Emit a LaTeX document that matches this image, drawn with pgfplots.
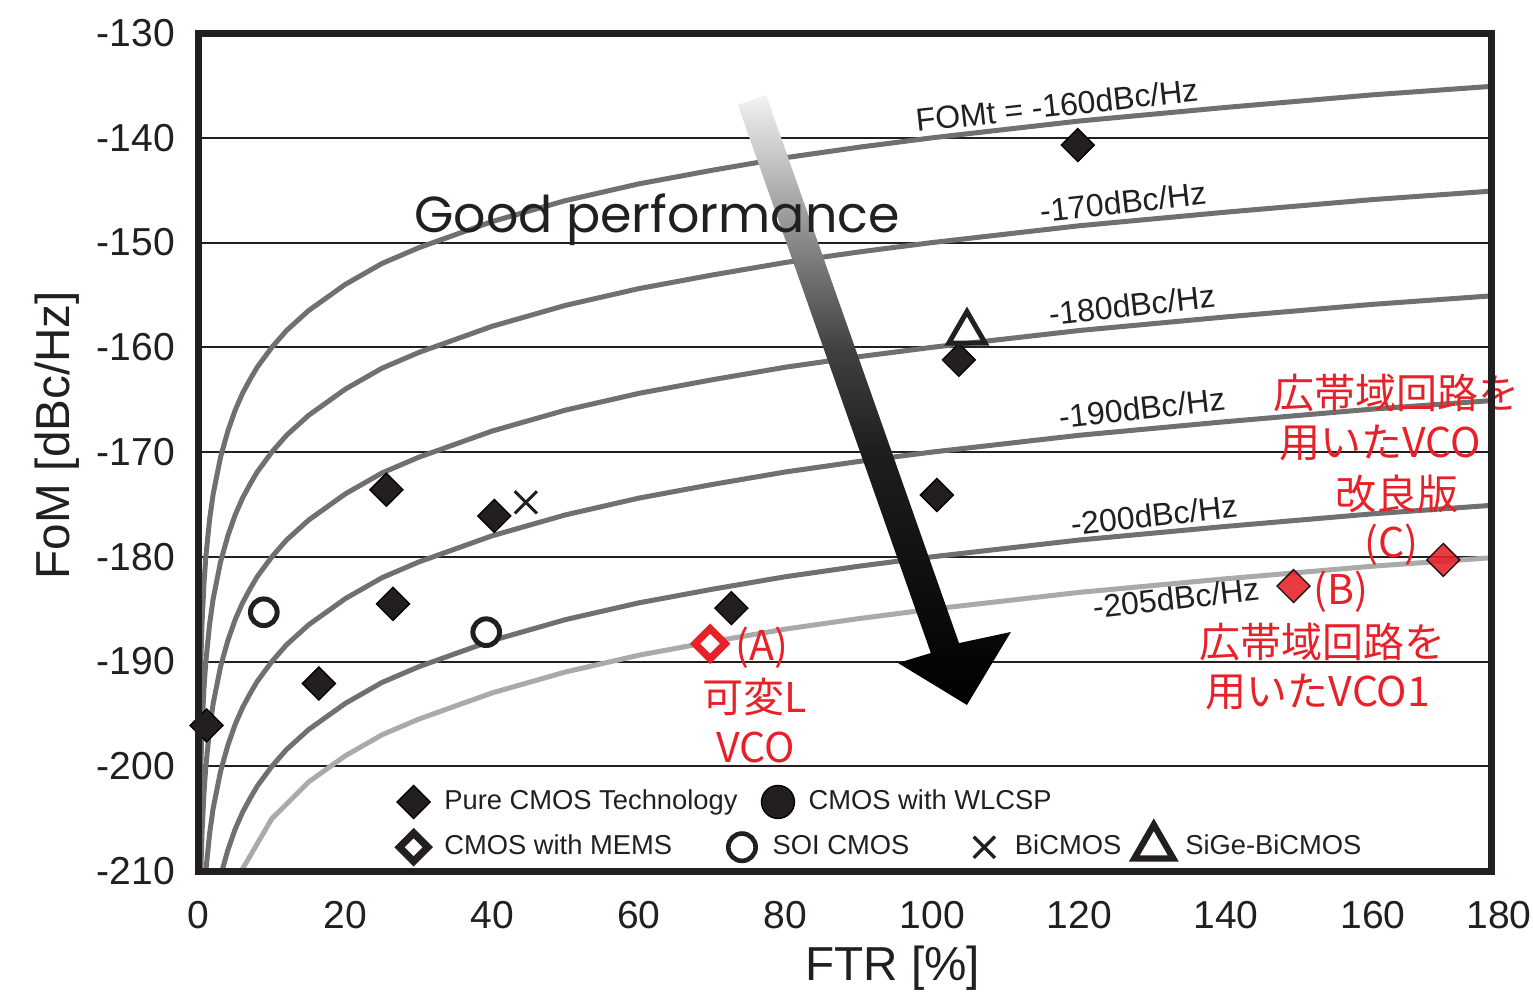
\documentclass[border=0pt]{standalone}
\usepackage{fontspec}
\setmainfont{Liberation Sans}
\newfontfamily\jp{Noto Sans CJK JP}
\newfontfamily\pop{Poppins}
\usepackage{pgfplots}
\pgfplotsset{compat=1.18}
\definecolor{frame}{RGB}{35,31,32}
\definecolor{curve}{RGB}{112,112,112}
\definecolor{curvelt}{RGB}{170,170,170}
\definecolor{jred}{RGB}{232,32,40}
\pgfdeclareverticalshading{arrowshade}{100bp}{color(0bp)=(black); color(25bp)=(black); color(46bp)=(black!88); color(54bp)=(black!75); color(62bp)=(black!50); color(70bp)=(black!22); color(75bp)=(black!5); color(100bp)=(black!5)}
\pgfplotsset{
  common/.style={scale only axis, width=387.75pt, height=251.4pt,
    xmin=0, xmax=176.1, ymin=-210, ymax=-130},
  mylegend/.style={
    legend style={draw=none, fill=none, inner sep=0pt, outer sep=0pt,
      column sep=0pt, font=\fontsize{8.2}{9}\selectfont, text=frame,
      nodes={inner sep=0pt},
      /tikz/every odd column/.append style={column sep=3.6pt}},
    legend image code/.code={\path (-5.4pt,0pt) (5.4pt,0pt);
      \draw[##1] plot[only marks] coordinates {(0pt,0pt)};}
  }
}
\begin{document}
\begin{tikzpicture}
\begin{axis}[common, mylegend,
  clip mode=individual,
  axis line style={draw=none},
  xtick={0,20,...,160}, xticklabels={0,20,40,60,80,100,120,140,160},
  ytick={-210,-200,...,-130},
  yticklabels={-210,-200,-190,-180,-170,-160,-150,-140,-130},
  major tick length=0pt,
  ymajorgrids, major grid style={frame, line width=0.6pt},
  ticklabel style={font=\fontsize{11.7}{12}\selectfont, text=frame},
  xticklabel style={anchor=center, yshift=-13.2pt},
  yticklabel style={anchor=center, xshift=-18.75pt},
  xlabel={FTR [\%]}, ylabel={FoM [dBc/Hz]},
  label style={font=\fontsize{14.3}{15}\selectfont, text=frame},
  xlabel style={at={([yshift=-29.1pt]rel axis cs:0.537,0)}, anchor=center},
  ylabel style={at={([xshift=-42.45pt]rel axis cs:0,0.52)}, anchor=center},
  legend columns=4,
  legend style={at={(axis cs:26.77,-207.33)}, anchor=west},
]
\coordinate (bl) at (rel axis cs:0,0);
% legend row 2
\addlegendimage{mark=square, mark size=3pt, mark options={rotate=45, draw=frame, line width=2.2pt, fill=white}}
\addlegendentry{\makebox[83.7pt][l]{CMOS with MEMS}}
\addlegendimage{mark=o, mark size=4.1pt, mark options={draw=frame, line width=1.4pt}}
\addlegendentry{\makebox[57.9pt][l]{SOI CMOS}}
\addlegendimage{mark=x, mark size=4.5pt, mark options={draw=frame, line width=1pt}}
\addlegendentry{\makebox[35.8pt][l]{BiCMOS}}
\addlegendimage{mark=triangle, mark size=6.75pt, mark options={draw=frame, line width=1.9pt}}
\addlegendentry{SiGe-BiCMOS}

% FOMt curves
\addplot[forget plot, curve, line width=1.5pt] coordinates {
(0.0316,-210) (0.05,-206.0) (0.1,-200.0) (0.2,-194.0) (0.316,-190.0) (0.5,-186.0) (0.75,-182.5) (1,-180.0) (1.5,-176.5) (2,-174.0) (3,-170.5) (4,-168.0) (5,-166.0) (6,-164.4) (7,-163.1) (8,-161.9) (10,-160.0) (12,-158.4) (15,-156.5) (20,-154.0) (25,-152.0) (30,-150.5) (40,-148.0) (50,-146.0) (60,-144.4) (70,-143.1) (80,-141.9) (90,-140.9) (100,-140.0) (120,-138.4) (140,-137.1) (160,-135.9) (180,-134.9)};
\addplot[forget plot, curve, line width=1.5pt] coordinates {
(0.1,-210.0) (0.2,-204.0) (0.316,-200.0) (0.5,-196.0) (0.75,-192.5) (1,-190.0) (1.5,-186.5) (2,-184.0) (3,-180.5) (4,-178.0) (5,-176.0) (6,-174.4) (7,-173.1) (8,-171.9) (10,-170.0) (12,-168.4) (15,-166.5) (20,-164.0) (25,-162.0) (30,-160.5) (40,-158.0) (50,-156.0) (60,-154.4) (70,-153.1) (80,-151.9) (90,-150.9) (100,-150.0) (120,-148.4) (140,-147.1) (160,-145.9) (180,-144.9)};
\addplot[forget plot, curve, line width=1.5pt] coordinates {
(0.316,-210.0) (0.5,-206.0) (0.75,-202.5) (1,-200.0) (1.5,-196.5) (2,-194.0) (3,-190.5) (4,-188.0) (5,-186.0) (6,-184.4) (7,-183.1) (8,-181.9) (10,-180.0) (12,-178.4) (15,-176.5) (20,-174.0) (25,-172.0) (30,-170.5) (40,-168.0) (50,-166.0) (60,-164.4) (70,-163.1) (80,-161.9) (90,-160.9) (100,-160.0) (120,-158.4) (140,-157.1) (160,-155.9) (180,-154.9)};
\addplot[forget plot, curve, line width=1.5pt] coordinates {
(1,-210.0) (1.5,-206.5) (2,-204.0) (3,-200.5) (4,-198.0) (5,-196.0) (6,-194.4) (7,-193.1) (8,-191.9) (10,-190.0) (12,-188.4) (15,-186.5) (20,-184.0) (25,-182.0) (30,-180.5) (40,-178.0) (50,-176.0) (60,-174.4) (70,-173.1) (80,-171.9) (90,-170.9) (100,-170.0) (120,-168.4) (140,-167.1) (160,-165.9) (180,-164.9)};
\addplot[forget plot, curve, line width=1.5pt] coordinates {
(3,-210.5) (4,-208.0) (5,-206.0) (6,-204.4) (7,-203.1) (8,-201.9) (10,-200.0) (12,-198.4) (15,-196.5) (20,-194.0) (25,-192.0) (30,-190.5) (40,-188.0) (50,-186.0) (60,-184.4) (70,-183.1) (80,-181.9) (90,-180.9) (100,-180.0) (120,-178.4) (140,-177.1) (160,-175.9) (180,-174.9)};
\addplot[forget plot, curvelt, line width=1.5pt] coordinates {
(5,-211.0) (10,-205.0) (15,-201.5) (20,-199.0) (25,-197.0) (30,-195.5) (40,-193.0) (50,-191.0) (60,-189.4) (70,-188.1) (80,-186.9) (90,-185.9) (100,-185.0) (120,-183.4) (140,-182.1) (160,-180.9) (180,-179.9)};

% data
\addplot[forget plot, only marks, mark=square*, mark size=3.5pt, mark options={rotate=45, fill=frame, draw=none}] coordinates {
(1.1,-196.1) (16.4,-192.1) (25.6,-173.6) (26.5,-184.5) (40.3,-176.1) (72.6,-184.9) (100.6,-174.1) (103.6,-161.2) (119.8,-140.7)};
\addplot[forget plot, only marks, mark=*, mark size=4pt, mark options={fill=white, draw=frame, line width=1.5pt}] coordinates {
(8.9,-185.3) (39.2,-187.2)};
\addplot[forget plot, only marks, mark=x, mark size=4.7pt, mark options={draw=frame, line width=0.9pt}] coordinates {
(44.6,-174.8)};
\addplot[forget plot, only marks, mark=triangle, mark size=6.3pt, mark options={draw=frame, line width=1.5pt}] coordinates {
(104.7,-158.6)};
\addplot[forget plot, only marks, mark=square*, mark size=3.2pt, mark options={rotate=45, fill=white, draw=jred, line width=2.2pt}] coordinates {
(69.7,-188.3)};
\addplot[forget plot, only marks, mark=square*, mark size=3.5pt, mark options={rotate=45, fill=jred, draw=none, opacity=0.88}] coordinates {
(149.2,-182.8) (169.6,-180.3)};

% curve labels
\begin{scope}[every node/.style={rotate=6.3, font=\fontsize{9.6}{10}\selectfont, text=frame}]
\node at (axis cs:116.96,-136.87) {FOMt = -160dBc/Hz};
\node at (axis cs:125.96,-146.13) {-170dBc/Hz};
\node at (axis cs:127.18,-155.96) {-180dBc/Hz};
\node at (axis cs:128.54,-165.79) {-190dBc/Hz};
\node at (axis cs:130.18,-176.0) {-200dBc/Hz};
\node at (axis cs:133.18,-183.94) {-205dBc/Hz};
\end{scope}

% arrow
\shade[shading=arrowshade] (axis cs:73.49,-136.87) -- (axis cs:77.33,-135.92) -- (axis cs:103.62,-188.24) -- (axis cs:110.69,-187.18) -- (axis cs:104.70,-194.15) -- (axis cs:95.30,-190.14) -- (axis cs:99.78,-189.19) -- cycle;

\node[font=\pop\fontsize{15.2}{16}\selectfont, text=frame] at (axis cs:62.47,-147.85) {Good performance};

% red annotations
\begin{scope}[every node/.style={font=\jp\fontsize{12.3}{13}\selectfont, text=jred}]
\node at (axis cs:163.17,-164.37) {広帯域回路を};
\node at (axis cs:160.99,-169.14) {用いたVCO};
\node at (axis cs:163.3,-174.0) {改良版};
\node at (axis cs:162.5,-178.88) {(C)};
\node at (axis cs:155.66,-183.37) {(B)};
\node at (axis cs:153.2,-188.14) {広帯域回路を};
\node at (axis cs:152.52,-192.92) {用いたVCO1};
\node at (axis cs:76.77,-188.71) {(A)};
\node at (axis cs:75.82,-193.39) {可変L};
\node at (axis cs:75.95,-198.16) {VCO};
\end{scope}

\node[font=\fontsize{11.7}{12}\selectfont, text=frame] at ([yshift=-13.2pt]axis cs:177.2,-210) {180};
\draw[frame, line width=2.1pt] (rel axis cs:0,0) rectangle (rel axis cs:1,1);
\end{axis}

\begin{axis}[common, mylegend, hide axis,
  legend columns=2,
  legend style={at={(axis cs:26.77,-203.41)}, anchor=west},
]
\addlegendimage{mark=square*, mark size=3.5pt, mark options={rotate=45, fill=frame, draw=none}}
\addlegendentry{\makebox[94.5pt][l]{Pure CMOS Technology}}
\addlegendimage{mark=*, mark size=4.95pt, mark options={fill=frame, draw=none}}
\addlegendentry{CMOS with WLCSP}
\end{axis}
\pgfresetboundingbox
\path (bl) ++(-59.55pt,-36pt) rectangle ++(459.9pt,297.3pt);
\end{tikzpicture}
\end{document}
